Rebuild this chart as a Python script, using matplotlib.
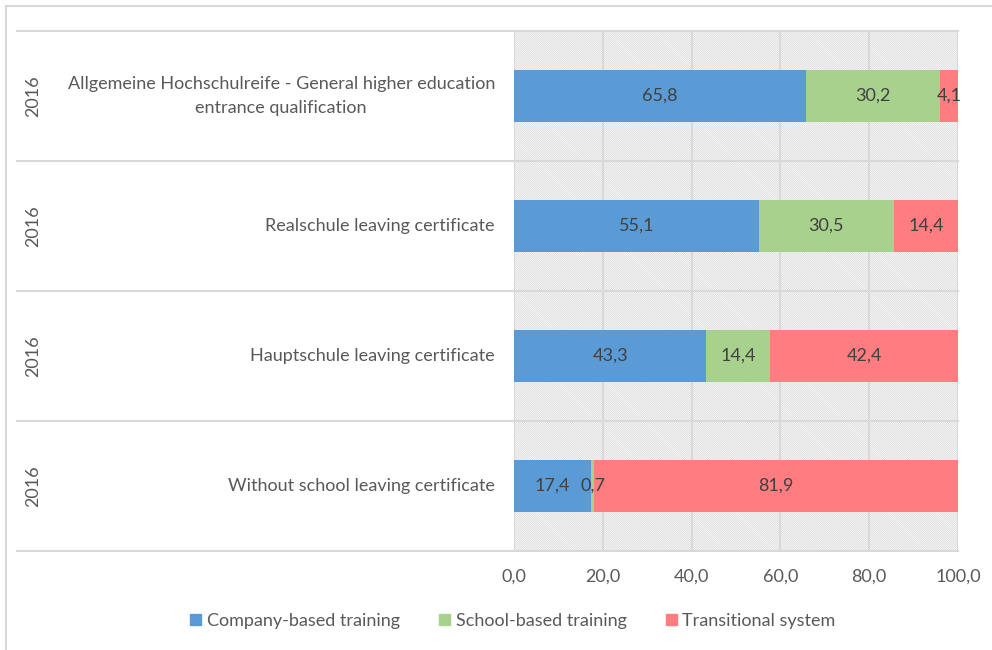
import matplotlib
matplotlib.use('Agg')
import matplotlib.pyplot as plt
from matplotlib.patches import Rectangle

categories = ['Allgemeine Hochschulreife - General higher education\nentrance qualification',
              'Realschule leaving certificate',
              'Hauptschule leaving certificate',
              'Without school leaving certificate']
years = ['2016', '2016', '2016', '2016']
series = ['Company-based training', 'School-based training', 'Transitional system']
company = [65.8, 55.1, 43.3, 17.4]
school = [30.2, 30.5, 14.4, 0.7]
transitional = [4.1, 14.4, 42.4, 81.9]
colors = ['#5b9bd5', '#a9d18e', '#ff7c80']
xticks = [0, 20, 40, 60, 80, 100]

plt.rcParams['font.family'] = ['Lato', 'DejaVu Sans']
plt.rcParams['hatch.color'] = '#d4d4d4'
plt.rcParams['hatch.linewidth'] = 0.5
grid_c = '#d9d9d9'
text_c = '#595959'
fs = 13

fig = plt.figure(figsize=(9.92, 6.5), dpi=100)
ax = fig.add_axes([514 / 992, 1 - 551 / 650, 444 / 992, 520 / 650])

# outer chart border
fig.add_artist(Rectangle((6 / 992, -0.1), 1.2, 1 - 6 / 650 + 0.1, transform=fig.transFigure,
                         fill=False, edgecolor=grid_c, linewidth=1.5))

ax.set_xlim(0, 100)
ax.set_ylim(len(categories) - 0.5, -0.5)

# hatched plot background
ax.add_patch(Rectangle((0, -0.5), 100, len(categories), facecolor='white',
                       edgecolor='#d4d4d4', linewidth=0, hatch='\\' * 16, zorder=0))

for x in xticks:
    ax.axvline(x, color=grid_c, linewidth=1.5, zorder=1)

# category separators extend across the label area
for b in range(len(categories) + 1):
    ax.plot([-1.12, 1], [b - 0.5, b - 0.5], transform=ax.get_yaxis_transform(),
            color=grid_c, linewidth=1.5, clip_on=False, zorder=1)

y = range(len(categories))
left = [0] * len(categories)
for vals, name, col in zip([company, school, transitional], series, colors):
    ax.barh(y, vals, left=left, height=0.4, color=col, label=name, zorder=2)
    for i, v in enumerate(vals):
        ax.text(left[i] + v / 2, i, f'{v:.1f}'.replace('.', ','), ha='center', va='center',
                fontsize=fs, color='#404040', zorder=3)
    left = [l + v for l, v in zip(left, vals)]

for i, (cat, yr) in enumerate(zip(categories, years)):
    ax.text(-0.043, i, cat, transform=ax.get_yaxis_transform(), ha='right', va='center',
            multialignment='center', fontsize=fs, color=text_c, linespacing=1.55)
    ax.text(-1.082, i, yr, transform=ax.get_yaxis_transform(), ha='center', va='center',
            rotation=90, fontsize=fs, color=text_c)

ax.set_xticks(xticks)
ax.set_xticklabels([f'{t:.1f}'.replace('.', ',') for t in xticks], fontsize=fs, color=text_c)
ax.set_yticks([])
ax.tick_params(axis='x', length=0, pad=13)
for s in ax.spines.values():
    s.set_visible(False)

handles = [Rectangle((0, 0), 1, 1, color=c) for c in colors]
fig.legend(handles, series, loc='center', bbox_to_anchor=(513 / 992, 1 - 621 / 650), ncol=3,
           frameon=False, fontsize=fs, labelcolor=text_c, handlelength=0.6, handleheight=0.6,
           handletextpad=0.3, columnspacing=2.2)

fig.savefig('out.png', dpi=100)
